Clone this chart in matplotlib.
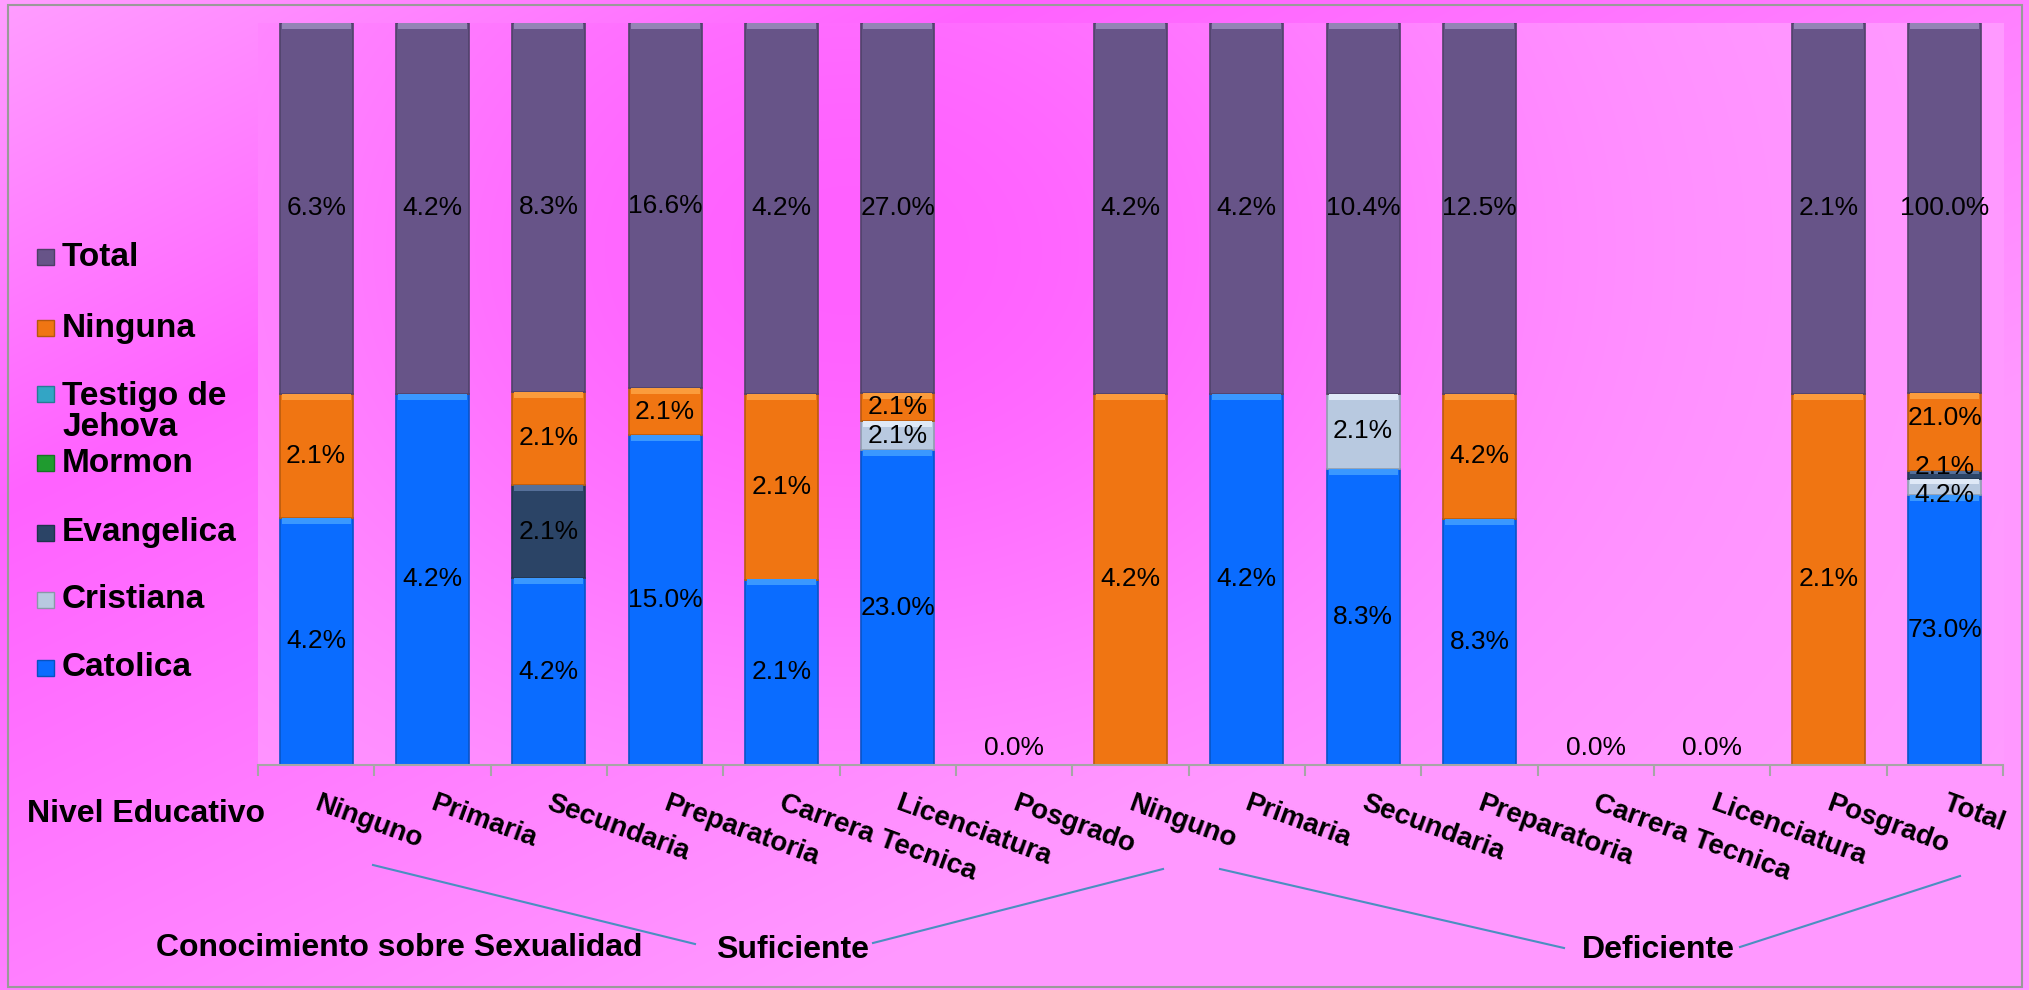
import numpy as np
import matplotlib
matplotlib.use("Agg")
import matplotlib.pyplot as plt
from matplotlib.patches import Rectangle
from matplotlib.colors import to_rgb

plt.rcParams["font.family"] = ["Liberation Sans", "DejaVu Sans"]

# =========================
# DATOS
# =========================
niveles = ["Ninguno", "Primaria", "Secundaria", "Preparatoria",
           "Carrera Tecnica", "Licenciatura", "Posgrado"]
categorias = niveles + niveles + ["Total"]
grupos = ["Suficiente", "Deficiente"]

catolica = [4.2, 4.2, 4.2, 15.0, 2.1, 23.0, 0, 0, 4.2, 8.3, 8.3, 0, 0, 0, 73.0]
cristiana = [0, 0, 0, 0, 0, 2.1, 0, 0, 0, 2.1, 0, 0, 0, 0, 4.2]
evangelica = [0, 0, 2.1, 0, 0, 0, 0, 0, 0, 0, 0, 0, 0, 0, 2.1]
mormon = [0] * 15
testigo = [0] * 15
ninguna = [2.1, 0, 2.1, 2.1, 2.1, 2.1, 0, 4.2, 0, 0, 4.2, 0, 0, 2.1, 21.0]
total = [6.3, 4.2, 8.3, 16.6, 4.2, 27.0, 0, 4.2, 4.2, 10.4, 12.5, 0, 0, 2.1, 100.0]

series = ["Catolica", "Cristiana", "Evangelica", "Mormon",
          "Testigo de\nJehova", "Ninguna", "Total"]
valores = [catolica, cristiana, evangelica, mormon, testigo, ninguna, total]
colores = ["#0a6cff", "#b8c9e0", "#2b4466", "#1f9b2f", "#33a5c5", "#f07512", "#675488"]
brillos = ["#3a98ff", "#dfe9f7", "#56709a", "#50c050", "#70d0e8", "#fb9c3c", "#9484b6"]

# ajustes manuales de etiquetas en la barra Total (para que no se encimen)
ajuste_etiqueta = {(5, 14): 0.02, (2, 14): 0.011, (1, 14): -0.011}

# =========================
# FIGURA Y FONDO
# =========================
W, H = 2029, 990
fig = plt.figure(figsize=(W / 100, H / 100), dpi=100)
fig.patch.set_facecolor("white")

bg = fig.add_axes([0, 0, 1, 1])
bg.set_xlim(0, W)
bg.set_ylim(H, 0)
bg.axis("off")

px0, px1, py0, py1 = 258, 2003, 23, 765

yy, xx = np.mgrid[0:H, 0:W]
p = 0.447 * xx + 0.894 * yy
verde = np.interp(p, [0, 450, 1250], [158, 98, 152])
m = np.exp(-((xx - 850) / 650.0) ** 2 - ((yy - 250) / 500.0) ** 2)
dentro = (xx >= px0) & (xx <= px1) & (yy >= py0) & (yy <= py1)
verde = np.where(dentro, 156 - 60 * m, verde)
img = np.dstack([np.ones_like(verde), verde / 255.0, np.ones_like(verde)])
bg.imshow(img, extent=(0, W, H, 0), aspect="auto", zorder=0)
bg.add_patch(Rectangle((8, 5), 2014, 982, fill=False, edgecolor="#9a9a9a", lw=1.5, zorder=1))

# =========================
# GRAFICO DE BARRAS 100% APILADAS
# =========================
ax = fig.add_axes([px0 / W, 1 - py1 / H, (px1 - px0) / W, (py1 - py0) / H])
ax.patch.set_alpha(0)

datos = np.array(valores, dtype=float)
sumas = datos.sum(axis=0)
frac = np.divide(datos, sumas, out=np.zeros_like(datos), where=sumas > 0)
x = np.arange(len(categorias))
ancho = 0.63

base = np.zeros(len(categorias))
for k, nombre in enumerate(series):
    oscuro = tuple(c * 0.78 for c in to_rgb(colores[k]))
    ax.bar(x, frac[k], ancho, bottom=base, color=colores[k],
           edgecolor=oscuro, linewidth=1.2, zorder=2)
    bisel = np.minimum(0.008, frac[k] * 0.35)
    ax.bar(x, bisel, ancho * 0.94, bottom=base + frac[k] - bisel,
           color=brillos[k], linewidth=0, zorder=3)
    for i in x:
        if datos[k, i] > 0:
            yc = base[i] + frac[k, i] / 2 + ajuste_etiqueta.get((k, i), 0)
            ax.text(i, yc, f"{datos[k, i]:.1f}%", ha="center", va="center",
                    fontsize=19, color="black", zorder=5)
    base = base + frac[k]

for i in x:
    if sumas[i] == 0:
        ax.text(i, 0.023, "0.0%", ha="center", va="center", fontsize=19, zorder=5)

ax.set_xlim(-0.5, len(categorias) - 0.5)
ax.set_ylim(0, 1)
for lado in ["top", "left", "right"]:
    ax.spines[lado].set_visible(False)
ax.spines["bottom"].set_color("#a6a6a6")
ax.spines["bottom"].set_linewidth(1.5)
ax.set_yticks([])
ax.set_xticks(np.arange(len(categorias) + 1) - 0.5)
ax.set_xticklabels([])
ax.tick_params(axis="x", length=8, width=1.5, color="#a6a6a6", direction="out")

# etiquetas de categoria giradas
for i, cat in enumerate(categorias):
    ax.text(i + 0.03, -0.034, cat, transform=ax.get_xaxis_transform(),
            rotation=-20, rotation_mode="anchor", ha="left", va="top",
            fontsize=20, fontweight="bold")

# =========================
# ETIQUETAS DE CAMPO Y GRUPOS
# =========================
bg.text(27, 814, "Nivel Educativo", fontsize=23, fontweight="bold", va="center", ha="left")
bg.text(156, 948, "Conocimiento sobre Sexualidad", fontsize=23, fontweight="bold",
        va="center", ha="left")
bg.text(793, 950, grupos[0], fontsize=23, fontweight="bold", va="center", ha="center")
bg.text(1658, 950, grupos[1], fontsize=23, fontweight="bold", va="center", ha="center")

lineas = [((373, 865), (695, 944)), ((873, 943), (1163, 869)),
          ((1220, 869), (1564, 948)), ((1740, 947), (1960, 876))]
for (xa, ya), (xb, yb) in lineas:
    bg.plot([xa, xb], [ya, yb], color="#4a8fc0", lw=1.5, zorder=2)

# =========================
# LEYENDA
# =========================
leyenda_y = [668, 600, 533, 463, 412, 328, 257]
marca_y = [668, 600, 533, 463, 394, 328, 257]
for k, nombre in enumerate(series):
    bg.add_patch(Rectangle((37, marca_y[k] - 8), 17, 16, facecolor=colores[k],
                           edgecolor=tuple(c * 0.75 for c in to_rgb(colores[k])),
                           lw=1, zorder=3))
    bg.text(62, leyenda_y[k], nombre, fontsize=24, fontweight="bold",
            va="center", ha="left", linespacing=1.0, zorder=3)

fig.savefig("out.png", dpi=100)
